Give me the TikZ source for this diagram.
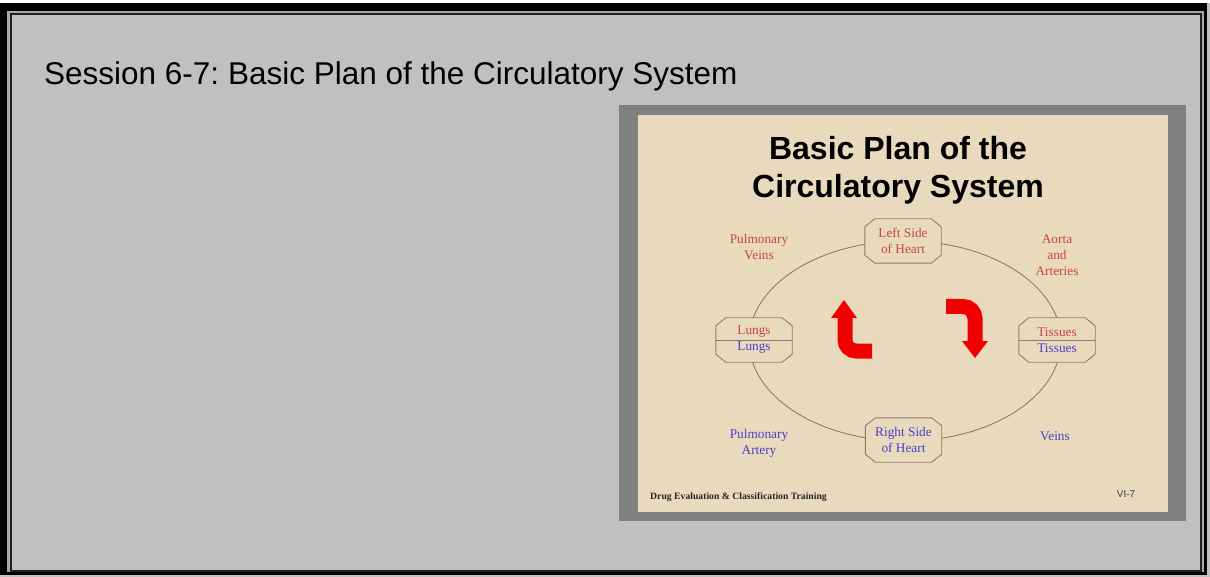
\documentclass[tikz,border=0pt]{standalone}
\usepackage{fontspec}
\setmainfont{Liberation Serif}
\newfontfamily\arialf{Liberation Sans}
\usetikzlibrary{calc}
\frenchspacing
\definecolor{framegray}{HTML}{C0C0C0}
\definecolor{stripgray}{HTML}{A8A8A8}
\definecolor{darkline}{HTML}{202020}
\definecolor{slidegray}{HTML}{808080}
\definecolor{beige}{HTML}{E9DABD}
\definecolor{txtred}{HTML}{C94444}
\definecolor{txtblue}{HTML}{4A40C8}
\definecolor{linebrown}{HTML}{8C7E66}
\definecolor{arrowred}{HTML}{F20000}
\pgfdeclarelayer{back}
\pgfdeclarelayer{mid}
\pgfsetlayers{back,mid,main}
\tikzset{
  oct/.style={minimum width=76pt, minimum height=44pt, inner sep=0pt, align=center,
    font=\fontsize{13.3}{16}\selectfont},
  lbl/.style={align=center, inner sep=0pt, font=\fontsize{13.3}{16}\selectfont},
  octline/.style={draw=linebrown, fill=beige, line width=0.9pt},
  bigarrow/.style={draw=arrowred, line width=15pt},
}
\newcommand\octo[1]{%
  \path[octline] ($(#1.north west)+(10,0)$) -- ($(#1.north east)+(-10,0)$)
    -- ($(#1.north east)+(0,8)$) -- ($(#1.south east)+(0,-8)$)
    -- ($(#1.south east)+(-10,0)$) -- ($(#1.south west)+(10,0)$)
    -- ($(#1.south west)+(0,-8)$) -- ($(#1.north west)+(0,8)$) -- cycle;}
\begin{document}
\begin{tikzpicture}[x=1pt,y=-1pt]
\useasboundingbox (0,0) rectangle (1210,577);
\begin{pgfonlayer}{back}
  \fill[framegray] (0,0) rectangle (1210,577);
  \fill[white] (0,0) rectangle (1210,3);
  \fill[black] (0,3) rectangle (1207,575);
  \fill[stripgray] (7,11) rectangle (1204,572);
  \draw[darkline, line width=2pt, fill=framegray] (11,14) rectangle (1201,571);
  \fill[slidegray] (619,105) rectangle (1186,521);
  \fill[beige] (638,115) rectangle (1168,512);
  \draw[linebrown, line width=0.9pt] (905,341) ellipse [x radius=156pt, y radius=100pt];
\end{pgfonlayer}

\node[anchor=base west, inner sep=0pt, font=\arialf\fontsize{31.5}{36}\selectfont] (title) at (44,85)
  {Session 6-7: Basic Plan of the Circulatory System};
\node[align=center, inner sep=0pt, font=\arialf\bfseries\fontsize{32}{38}\selectfont] (stitle) at (898,170)
  {Basic Plan of the\\Circulatory System};

\node[oct] (lsh) at (903,241) {\color{txtred}Left Side\\\color{txtred}of Heart};
\node[oct] (rsh) at (903.5,440) {\color{txtblue}Right Side\\\color{txtblue}of Heart};
\node[oct] (lungs) at (754,340) {\color{txtred}Lungs\\\color{txtblue}Lungs};
\node[oct] (tissues) at (1057,340) {\color{txtred}Tissues\\\color{txtblue}Tissues};

\begin{pgfonlayer}{mid}
  \octo{lsh}
  \octo{rsh}
  \octo{lungs}
  \octo{tissues}
  \draw[linebrown, line width=0.9pt] (lungs.west) -- (lungs.east);
  \draw[linebrown, line width=0.9pt] (tissues.west) -- (tissues.east);
\end{pgfonlayer}

\node[lbl, text=txtred] (pv) at (759,247) {Pulmonary\\Veins};
\node[lbl, text=txtred] (aa) at (1057,255) {Aorta\\and\\Arteries};
\node[lbl, text=txtblue] (pa) at (759,443) {Pulmonary\\Artery};
\node[lbl, text=txtblue] (vn) at (1055,436) {Veins};

\draw[bigarrow, rounded corners=11pt] (872,351) -| (845,317);
\fill[arrowred] (831,318) -- (844,300) -- (857,318) -- cycle;
\draw[bigarrow, rounded corners=12pt] (946,306.5) -| (975,342);
\fill[arrowred] (962,341) -- (988,341) -- (975,358) -- cycle;

\node[anchor=base west, inner sep=0pt, font=\bfseries\fontsize{9.7}{12}\selectfont, text=black!85] (foot) at (650,499)
  {Drug Evaluation \& Classification Training};
\node[anchor=base, inner sep=0pt, font=\arialf\fontsize{10}{12}\selectfont, text=black!75] (vi) at (1126,497) {VI-7};
\end{tikzpicture}
\end{document}
